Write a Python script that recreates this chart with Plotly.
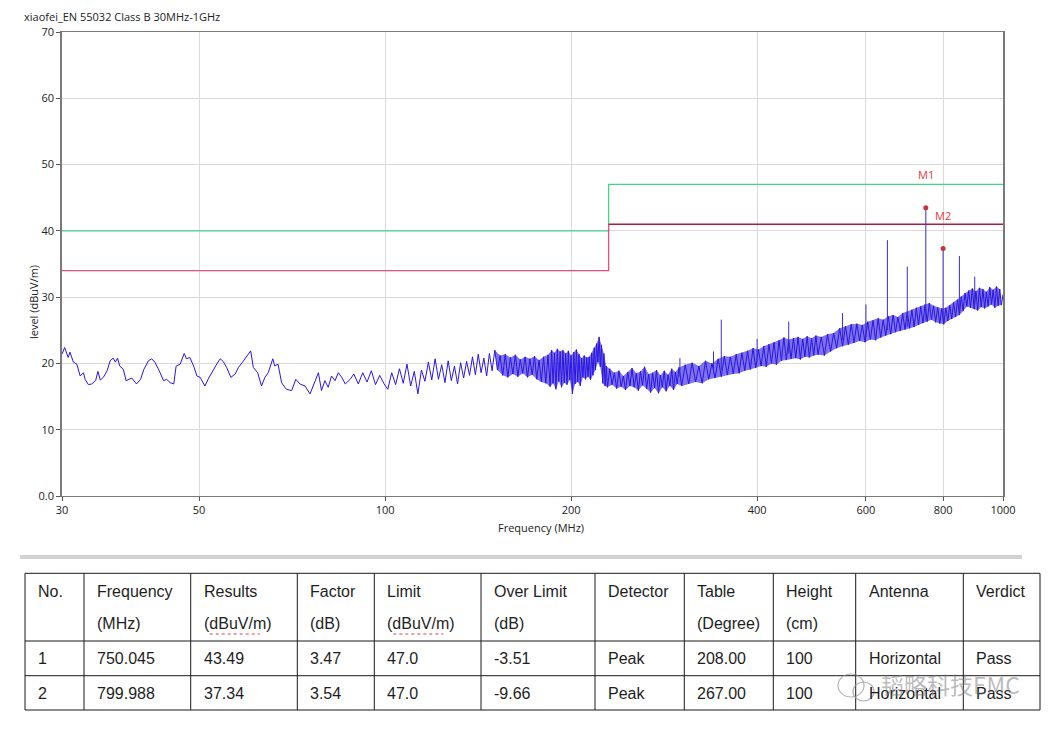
import math
import plotly.graph_objects as go

TITLE = "xiaofei_EN 55032 Class B 30MHz-1GHz"
X_TITLE = "Frequency (MHz)"
Y_TITLE = "level (dBuV/m)"

freq_low = [30.0, 30.3, 30.7, 30.9, 31.3, 31.7, 32.1, 32.5, 32.7, 33.1,
            33.5, 34.0, 34.3, 34.6, 35.0, 35.5, 35.9, 36.3, 36.6, 36.9,
            37.2, 37.7, 38.1, 38.9, 39.6, 40.2, 40.7, 41.4, 41.9, 42.4,
            43.1, 43.8, 44.3, 44.9, 45.5, 45.9, 46.6, 47.3, 47.7, 48.3,
            49.0, 49.6, 50.2, 51.1, 51.7, 52.4, 53.4, 54.1, 54.7, 55.4,
            56.3, 57.2, 57.9, 58.8, 59.8, 60.6, 61.2, 62.2, 63.1, 63.9,
            64.7, 65.8, 66.3, 67.1, 68.0, 69.2, 70.6, 71.7, 72.8, 74.2,
            75.6, 77.0, 78.0, 78.9, 79.9, 80.9, 81.9, 83.0, 84.0, 85.1,
            86.2, 87.8]
level_low = [21.4, 22.4, 20.9, 21.7, 20.2, 19.9, 18.1, 18.6, 17.6, 16.8,
             16.9, 17.4, 18.8, 17.5, 17.9, 18.9, 20.4, 20.8, 20.2, 20.8,
             19.6, 19.1, 17.4, 17.8, 16.9, 17.6, 19.1, 20.4, 20.7, 20.2,
             18.9, 17.4, 17.6, 17.1, 16.9, 19.6, 19.9, 21.5, 20.7, 20.9,
             19.6, 18.1, 17.9, 16.6, 17.6, 18.6, 19.9, 20.7, 20.3, 19.4,
             17.9, 18.4, 19.4, 20.2, 21.2, 21.9, 19.4, 18.6, 16.6, 17.9,
             18.6, 20.7, 19.6, 19.9, 17.1, 16.1, 15.9, 17.6, 16.9, 16.6,
             15.4, 17.4, 18.6, 15.9, 17.4, 16.4, 18.1, 17.4, 18.6, 17.9,
             16.9, 17.6]

freq_mid = [89, 90.5, 92, 93.5, 95, 96.5, 98, 99.5,
            101, 102.5, 104, 105.5, 107, 108.5, 110, 111.5,
            113, 114.5, 116, 117.5, 119, 120.5, 122,
            123.5, 125, 126.5, 128, 129.5, 131, 132.5, 134, 135.5, 137,
            138.5, 140, 141.5, 143, 144.5, 146, 147.5, 149, 150.5, 152,
            153.5, 155, 156.5, 158, 159.5, 161, 162.5, 164, 165.5, 167,
            168.5, 170, 171.5, 173, 174.5, 176, 177.5, 179, 180.5, 182, 183.5,
            185, 186, 187, 188, 189, 190, 191, 192, 193, 194, 195, 196,
            197, 198, 199, 200, 201, 202, 203, 204, 205, 206, 207,
            208, 209, 210, 211, 212, 213, 214, 215, 216, 217, 218,
            219, 220, 221, 222, 223, 224, 225, 226, 227, 228, 229]
level_mid = [18.4, 16.9, 18.6, 17.2, 18.9, 16.8, 18.2, 17.0,
             16.1, 18.6, 16.8, 19.2, 17.0, 19.9, 16.6, 18.8,
             15.4, 19.0, 17.3, 20.2, 17.5, 20.7, 17.6,
             19.8, 17.1, 20.4, 17.4, 19.6, 16.9, 20.1, 17.8, 20.3, 18.2,
             21.0, 18.3, 21.4, 18.6, 20.8, 18.1, 21.5, 18.9, 22.0, 19.0,
             21.2, 18.2, 21.4, 17.9, 20.9, 18.4, 21.3, 18.0, 20.6, 18.5,
             21.0, 17.9, 20.7, 18.3, 21.1, 17.6, 20.5, 17.2, 21.0, 17.0, 21.3,
             16.5, 22.0, 17.0, 21.6, 16.1, 22.2, 17.3, 21.8, 16.4, 22.0, 17.1, 21.5,
             16.8, 21.9, 17.5, 21.2, 15.4, 21.7, 16.9, 22.1, 17.2, 21.4, 16.6,
             20.8, 17.9, 21.2, 17.6, 20.9, 18.0, 21.0, 17.5, 21.6, 18.2, 22.4,
             19.0, 23.0, 20.2, 24.0, 19.5, 22.8, 17.0, 21.5, 16.6, 19.6, 16.4]

freq_high1 = [231, 233, 235, 237, 239, 241, 243, 245, 247, 249,
              251, 253, 255, 257, 259, 261, 263, 265, 267, 269,
              271, 273, 275, 277, 279, 281, 283, 285, 287, 289,
              291, 293, 295, 297, 299]
level_high1 = [19.2, 16.8, 18.6, 16.2, 18.9, 16.5, 18.1, 16.0, 18.7, 16.6,
               19.3, 16.4, 18.5, 15.9, 18.8, 16.7, 19.5, 16.2, 18.4, 15.6,
               18.6, 16.3, 19.0, 15.5, 18.2, 16.4, 18.9, 15.8, 18.3, 16.6,
               19.2, 16.0, 18.7, 16.9, 19.4]

freq_high2 = [302, 306, 310, 314, 318, 322, 326, 330, 334, 338,
              342, 346, 350, 354, 358, 362, 366, 370, 374, 378,
              382, 386, 390, 394, 398, 402, 406, 410, 414, 418,
              422, 426, 430, 434, 438, 442, 446, 450, 454, 458,
              462, 466, 470, 474, 478, 482, 486, 490, 494, 498]
level_high2 = [16.6, 19.8, 16.9, 20.1, 17.2, 19.6, 17.0, 20.4, 17.6, 20.0,
               17.8, 20.7, 18.0, 21.1, 18.3, 21.0, 18.4, 21.4, 18.5, 21.6,
               18.9, 21.9, 19.1, 22.3, 19.3, 22.1, 19.6, 22.6, 19.5, 22.9,
               20.0, 23.2, 19.8, 23.5, 20.4, 23.9, 20.5, 23.6, 20.7, 23.8,
               20.8, 24.0, 20.6, 23.7, 21.0, 24.1, 20.9, 23.8, 21.2, 24.2]

freq_high3 = [502, 508, 514, 520, 526, 532, 538, 544, 550, 556,
              562, 568, 574, 580, 586, 592, 598, 604, 610, 616,
              622, 628, 634, 640, 646, 652, 658, 664, 670, 676,
              682, 688, 694, 700, 706, 712, 718, 724, 730, 736,
              742, 748, 754, 760, 766, 772, 778, 784, 790, 796,
              802, 808, 814, 820, 826, 832, 838, 844, 850, 856,
              862, 868, 874, 880, 886, 892, 898, 904, 910, 916,
              922, 928, 934, 940, 946, 952, 958, 964, 970, 976,
              982, 988, 994, 1000]
level_high3 = [21.3, 24.0, 21.2, 24.4, 21.8, 24.6, 22.3, 25.3, 22.6, 25.6,
               22.8, 25.9, 23.1, 26.0, 23.4, 25.8, 23.2, 26.3, 23.6, 26.5,
               23.5, 26.8, 23.9, 26.6, 24.2, 27.1, 24.4, 27.3, 24.7, 27.0,
               24.9, 27.6, 25.1, 27.8, 25.3, 28.1, 25.5, 28.4, 25.8, 28.6,
               26.1, 28.9, 26.3, 29.1, 26.6, 28.7, 26.2, 28.5, 26.0, 28.3,
               25.9, 28.4, 26.4, 28.8, 26.7, 29.2, 27.0, 29.6, 27.3, 30.1,
               27.9, 30.6, 28.6, 31.0, 28.4, 31.3, 28.2, 30.9, 28.0, 31.4,
               28.5, 31.2, 28.3, 30.8, 28.6, 31.5, 28.9, 31.1, 28.4, 31.6,
               28.7, 31.2, 28.8, 30.4]

# narrow emissions (spikes)
spike_freq = [300, 340, 350, 400, 450, 550, 600, 650, 700, 750.045, 799.988, 850, 900]
spike_top = [20.8, 21.8, 26.6, 23.7, 26.3, 27.6, 28.9, 38.6, 34.6, 43.49, 37.34, 36.2, 33.1]
spike_base = [18.0, 18.5, 19.0, 20.5, 21.5, 23.5, 24.0, 25.0, 25.5, 26.5, 26.5, 27.5, 29.0]

# limit lines
limit_upper_freq = [30, 230, 230, 1000]
limit_upper_level = [40, 40, 47, 47]
limit_lower_freq_a = [30, 230, 230]
limit_lower_level_a = [34, 34, 41]
limit_lower_freq_b = [230, 1000]
limit_lower_level_b = [41, 41]

# markers
marker_names = ["M1", "M2"]
marker_freq = [750.045, 799.988]
marker_level = [43.49, 37.34]

x_tick_vals = [30, 50, 100, 200, 400, 600, 800, 1000]
x_tick_text = ["30", "50", "100", "200", "400", "600", "800", "1000"]
y_tick_vals = [0, 10, 20, 30, 40, 50, 60, 70]
y_tick_text = ["0.0", "10", "20", "30", "40", "50", "60", "70"]

# result table
table_header_1 = ["No.", "Frequency", "Results", "Factor", "Limit", "Over Limit",
                  "Detector", "Table", "Height", "Antenna", "Verdict"]
table_header_2 = ["", "(MHz)", "(dBuV/m)", "(dB)", "(dBuV/m)", "(dB)",
                  "", "(Degree)", "(cm)", "", ""]
table_row_1 = ["1", "750.045", "43.49", "3.47", "47.0", "-3.51",
               "Peak", "208.00", "100", "Horizontal", "Pass"]
table_row_2 = ["2", "799.988", "37.34", "3.54", "47.0", "-9.66",
               "Peak", "267.00", "100", "Horizontal", "Pass"]
WATERMARK = "韬略科技EMC"

for a, b in [(freq_low, level_low), (freq_mid, level_mid), (freq_high1, level_high1),
             (freq_high2, level_high2), (freq_high3, level_high3)]:
    assert len(a) == len(b), (len(a), len(b))

# ---- layout geometry: reference-pixel coordinates; page body adds 8px offset ----
OFF = 8
W, H = 1060 - OFF, 731 - OFF
PL, PR, PT, PB = 62, 1003, 32, 496  # plot box in reference pixels


def px(x):
    return (x - PL) / (PR - PL)


def py(y):
    return (PB - y) / (PB - PT)


TRACE_BLUE = "#2a16e0"
BAND_START = 150  # MHz: above this the sweep is drawn as a dense band

fig = go.Figure()

# dense-noise band: fill between the local maxima and minima of the trace
dense_f = freq_mid + freq_high1 + freq_high2 + freq_high3
dense_l = level_mid + level_high1 + level_high2 + level_high3
up_x, up_y, lo_x, lo_y = [], [], [], []
for i in range(1, len(dense_l) - 1):
    if dense_f[i] < BAND_START:
        continue
    if dense_l[i] >= dense_l[i - 1] and dense_l[i] >= dense_l[i + 1]:
        up_x.append(dense_f[i]); up_y.append(dense_l[i])
    elif dense_l[i] <= dense_l[i - 1] and dense_l[i] <= dense_l[i + 1]:
        lo_x.append(dense_f[i]); lo_y.append(dense_l[i])
fig.add_trace(go.Scatter(x=lo_x, y=lo_y, mode="lines", line=dict(width=0),
                         hoverinfo="skip"))
fig.add_trace(go.Scatter(x=up_x, y=up_y, mode="lines", line=dict(width=0),
                         fill="tonexty", fillcolor="rgba(42,22,224,0.6)",
                         hoverinfo="skip"))

trace_f = freq_low + freq_mid + freq_high1 + freq_high2 + freq_high3
trace_l = level_low + level_mid + level_high1 + level_high2 + level_high3
fig.add_trace(go.Scatter(x=trace_f, y=trace_l, mode="lines",
                         line=dict(color=TRACE_BLUE, width=1), hoverinfo="skip"))

sx, sy = [], []
for f, b, t in zip(spike_freq, spike_base, spike_top):
    sx += [f, f, None]
    sy += [b, t, None]
fig.add_trace(go.Scatter(x=sx, y=sy, mode="lines",
                         line=dict(color="#3a2ad0", width=1), hoverinfo="skip"))

fig.add_trace(go.Scatter(x=limit_upper_freq, y=limit_upper_level, mode="lines",
                         line=dict(color="#3fd68c", width=1.3)))
fig.add_trace(go.Scatter(x=limit_lower_freq_a, y=limit_lower_level_a, mode="lines",
                         line=dict(color="#e4507e", width=1.3)))
fig.add_trace(go.Scatter(x=limit_lower_freq_b, y=limit_lower_level_b, mode="lines",
                         line=dict(color="#a8203e", width=1.3)))

fig.add_trace(go.Scatter(x=marker_freq, y=marker_level, mode="markers",
                         marker=dict(color="#c8303a", size=5)))

annotations = []
for n, f, l in zip(marker_names, marker_freq, marker_level):
    annotations.append(dict(x=math.log10(f), y=l, xref="x", yref="y", text=n,
                            showarrow=False, yshift=33,
                            font=dict(family="Open Sans", size=11, color="#e03a3a")))

annotations.append(dict(x=px(22), y=py(17), xref="paper", yref="paper", text=TITLE,
                        showarrow=False, xanchor="left", yanchor="middle",
                        font=dict(family="Open Sans", size=11, color="#222")))
annotations.append(dict(x=px(541), y=py(527), xref="paper", yref="paper", text=X_TITLE,
                        showarrow=False, xanchor="center", yanchor="middle",
                        font=dict(family="Open Sans", size=11, color="#222")))
annotations.append(dict(x=px(33), y=py(302), xref="paper", yref="paper", text=Y_TITLE,
                        showarrow=False, textangle=-90, xanchor="center", yanchor="middle",
                        font=dict(family="Open Sans", size=11, color="#222")))

shapes = []
# separator bar
shapes.append(dict(type="line", xref="paper", yref="paper",
                   x0=px(20), x1=px(1022), y0=py(557), y1=py(557),
                   line=dict(color="#d2d2d2", width=4)))

# table grid
col_edges = [25, 84, 190.7, 297.3, 374.3, 481, 595, 684.3, 773.3, 855.7, 963.3, 1040]
row_edges = [573.3, 641, 675.7, 710]
for xe in col_edges:
    shapes.append(dict(type="line", xref="paper", yref="paper",
                       x0=px(xe), x1=px(xe), y0=py(row_edges[0]), y1=py(row_edges[-1]),
                       line=dict(color="#1a1a1a", width=1)))
for ye in row_edges:
    shapes.append(dict(type="line", xref="paper", yref="paper",
                       x0=px(col_edges[0]), x1=px(col_edges[-1]), y0=py(ye), y1=py(ye),
                       line=dict(color="#1a1a1a", width=1)))

TFONT = dict(family="Liberation Sans, Arial", size=16, color="#1e1e1e")
for rows, yc in [(table_header_1, 591.7), (table_header_2, 623.3),
                 (table_row_1, 658.3), (table_row_2, 693.3)]:
    for i, txt in enumerate(rows):
        if not txt:
            continue
        annotations.append(dict(x=px(col_edges[i] + 11), y=py(yc), xref="paper", yref="paper",
                                text=txt, showarrow=False, xanchor="left", yanchor="middle",
                                font=TFONT))

# red spell-check squiggle under dBuV/m
for ci in (2, 4):
    x0 = col_edges[ci] + 19
    shapes.append(dict(type="line", xref="paper", yref="paper",
                       x0=px(x0), x1=px(x0 + 50), y0=py(634), y1=py(634),
                       line=dict(color="#e04040", width=1, dash="dot")))

# watermark
shapes.append(dict(type="circle", xref="paper", yref="paper",
                   x0=px(838), x1=px(864), y0=py(697), y1=py(674),
                   line=dict(color="rgba(150,150,150,0.7)", width=1.2)))
shapes.append(dict(type="circle", xref="paper", yref="paper",
                   x0=px(853), x1=px(874), y0=py(701), y1=py(682),
                   line=dict(color="rgba(150,150,150,0.7)", width=1.2)))
annotations.append(dict(x=px(950), y=py(684), xref="paper", yref="paper", text=WATERMARK,
                        showarrow=False, xanchor="center", yanchor="middle",
                        font=dict(family="Noto Sans CJK SC", size=23,
                                  color="rgba(120,120,120,0.5)")))

fig.update_layout(
    width=W, height=H,
    margin=dict(l=PL - OFF, r=W - (PR - OFF), t=PT - OFF, b=H - (PB - OFF)),
    paper_bgcolor="white", plot_bgcolor="white",
    showlegend=False,
    annotations=annotations,
    shapes=shapes,
    font=dict(family="Open Sans", size=11, color="#222"),
)
fig.update_xaxes(type="log", range=[math.log10(30), math.log10(1000)],
                 tickvals=x_tick_vals, ticktext=x_tick_text,
                 showgrid=True, gridcolor="#dadada", gridwidth=1,
                 showline=True, linecolor="#7a7a7a", linewidth=1, mirror=True,
                 ticks="outside", ticklen=4, tickcolor="#555",
                 tickfont=dict(size=11, color="#222"), zeroline=False)
fig.update_yaxes(range=[0, 70], tickvals=y_tick_vals, ticktext=y_tick_text,
                 showgrid=True, gridcolor="#dadada", gridwidth=1,
                 showline=True, linecolor="#7a7a7a", linewidth=1.5, mirror=True,
                 ticks="outside", ticklen=4, tickcolor="#555",
                 tickfont=dict(size=11, color="#222"), zeroline=False)

fig.write_html("out.html")
